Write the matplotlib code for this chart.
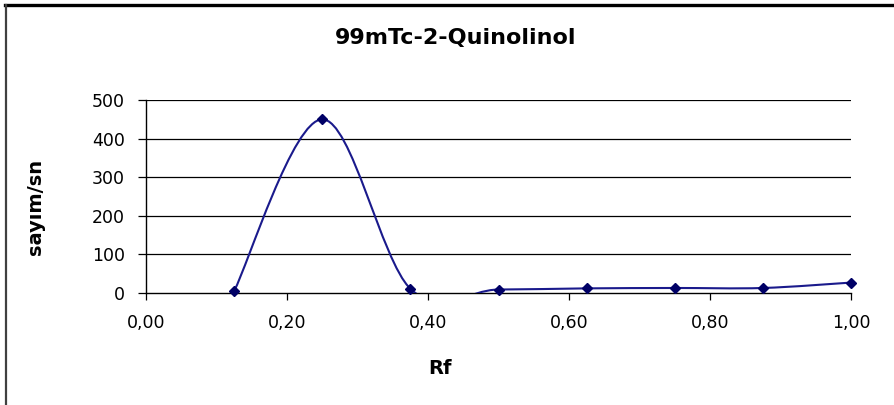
import matplotlib as mpl
import matplotlib.pyplot as plt
import numpy as np
from matplotlib.lines import Line2D
from matplotlib.patches import PathPatch
from matplotlib.path import Path

mpl.use("Agg")

FIG_W, FIG_H = 8.94, 4.05
DPI = 100

LINE_COLOR = "#1a1a8c"
MARKER_COLOR = "#000066"

mpl.rcParams.update(
    {
        "font.family": "sans-serif",
        "font.sans-serif": ["DejaVu Sans"],
        "font.size": 12.5,
        "axes.linewidth": 1.0,
    }
)

# data
rf = [0.125, 0.25, 0.375, 0.5, 0.625, 0.75, 0.875, 1.0]
counts = [5, 450, 11, 9, 12, 13, 13, 27]
x_ticks = [0.0, 0.2, 0.4, 0.6, 0.8, 1.0]
x_tick_labels = ["0,00", "0,20", "0,40", "0,60", "0,80", "1,00"]
y_ticks = [0, 100, 200, 300, 400, 500]


def smooth_path(xs, ys):
    # Excel-style smoothed line: cubic Bezier with control points at 1/6 of neighbour span
    pts = np.column_stack([xs, ys]).astype(float)
    n = len(pts)
    verts = [pts[0]]
    codes = [Path.MOVETO]
    for i in range(n - 1):
        p_prev = pts[i - 1] if i > 0 else pts[i]
        p0 = pts[i]
        p1 = pts[i + 1]
        p_next = pts[i + 2] if i + 2 < n else pts[i + 1]
        c1 = p0 + (p1 - p_prev) / 6.0
        c2 = p1 - (p_next - p0) / 6.0
        verts += [c1, c2, p1]
        codes += [Path.CURVE4] * 3
    return Path(verts, codes)


def main():
    fig = plt.figure(figsize=(FIG_W, FIG_H), dpi=DPI, facecolor="white")
    ax = fig.add_axes([146 / 894, 112 / 405, 705 / 894, 193 / 405])

    ax.set_xlim(0, 1.0)
    ax.set_ylim(0, 500)
    ax.set_xticks(x_ticks)
    ax.set_xticklabels(x_tick_labels)
    ax.set_yticks(y_ticks)

    for yv in y_ticks[1:]:
        ax.axhline(yv, color="black", linewidth=0.9, zorder=1)

    ax.spines["top"].set_visible(False)
    ax.spines["right"].set_visible(False)
    ax.tick_params(axis="y", direction="out", length=6, width=0.9, pad=9)
    ax.tick_params(axis="x", direction="out", length=5, width=0.9, pad=10)

    patch = PathPatch(smooth_path(rf, counts), facecolor="none", edgecolor=LINE_COLOR,
                      linewidth=1.5, zorder=3)
    ax.add_patch(patch)
    ax.plot(rf, counts, linestyle="none", marker="D", markersize=5.5,
            color=MARKER_COLOR, clip_on=False, zorder=4)

    fig.text(440 / 894, 1 - 368 / 405, "Rf", ha="center", va="center",
             fontsize=14, fontweight="bold")
    fig.text(36 / 894, 1 - 207 / 405, "sayım/sn", ha="center", va="center",
             rotation=90, fontsize=14, fontweight="bold")
    fig.text(456 / 894, 1 - 38 / 405, "99mTc-2-Quinolinol", ha="center", va="center",
             fontsize=16, fontweight="bold")

    # outer chart frame
    fig.add_artist(Line2D([5 / 894, 1.0], [1 - 5 / 405, 1 - 5 / 405],
                          color="black", linewidth=2.4, transform=fig.transFigure))
    fig.add_artist(Line2D([6 / 894, 6 / 894], [0, 1 - 5 / 405],
                          color="#404040", linewidth=1.6, transform=fig.transFigure))

    fig.savefig("out.png", dpi=DPI, facecolor="white")
    plt.close(fig)


if __name__ == "__main__":
    main()
